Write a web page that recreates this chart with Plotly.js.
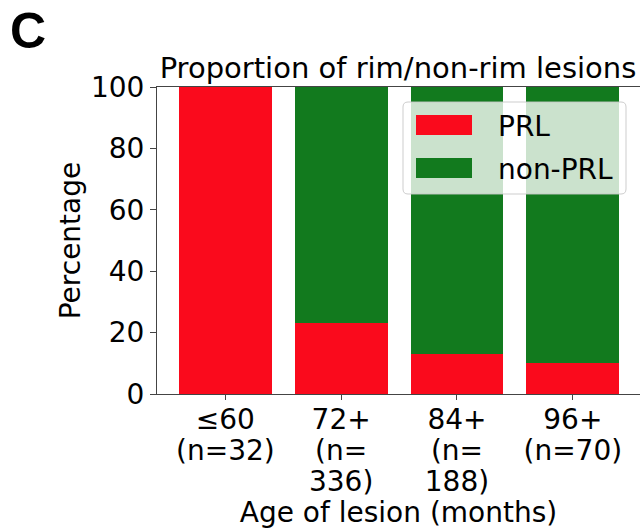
<!DOCTYPE html>
<html>
<head>
<meta charset="utf-8">
<script src="https://cdn.plot.ly/plotly-3.0.1.min.js"></script>
<style>html,body{margin:0;padding:0;background:#fff;}#chart{width:640px;height:529px;}</style>
</head>
<body>
<div id="chart"></div>
<script>
// ---- data ----
const categoryLines = [["≤60", "(n=32)"], ["72+", "(n=", "336)"], ["84+", "(n=", "188)"], ["96+", "(n=70)"]];
const prlValues = [100, 23, 13, 10];
const nonPrlValues = [0, 77, 87, 90];
const seriesNames = ["PRL", "non-PRL"];
const yTicks = [0, 20, 40, 60, 80, 100];

// ---- style ----
const RED = "#fa0a1c";
const GREEN = "#127a1e";
const FONT = "DejaVu Sans, sans-serif";
const W = 640, H = 529;
const M = {l: 157, r: 0, t: 87, b: 135};
const PW = W - M.l - M.r, PH = H - M.t - M.b;
const px = x => (x - M.l) / PW;
const py = y => (M.t + PH - y) / PH;

// glyphs at 28px, line spacing from a 24px base (tighter, like the reference)
const categories = categoryLines.map(ls => ls.map(s => `<span style="font-size:28px">${s}</span>`).join("<br>"));

const traces = [
  {type: "bar", name: seriesNames[0], x: categories, y: prlValues, marker: {color: RED}, showlegend: false, hoverinfo: "skip"},
  {type: "bar", name: seriesNames[1], x: categories, y: nonPrlValues, marker: {color: GREEN}, showlegend: false, hoverinfo: "skip"}
];

function roundedRect(x0, y0, x1, y1, r) {
  const X0 = px(x0), X1 = px(x1), Y0 = py(y0), Y1 = py(y1);
  const rx = r / PW, ry = r / PH;
  return `M ${X0 + rx} ${Y0} L ${X1 - rx} ${Y0} Q ${X1} ${Y0} ${X1} ${Y0 - ry} L ${X1} ${Y1 + ry} Q ${X1} ${Y1} ${X1 - rx} ${Y1} L ${X0 + rx} ${Y1} Q ${X0} ${Y1} ${X0} ${Y1 + ry} L ${X0} ${Y0 - ry} Q ${X0} ${Y0} ${X0 + rx} ${Y0} Z`;
}

const shapes = [
  {type: "path", xref: "paper", yref: "paper", path: roundedRect(403, 102, 626, 194, 5),
   fillcolor: "rgba(255,255,255,0.78)", line: {color: "rgba(200,200,200,0.9)", width: 1}},
  {type: "rect", xref: "paper", yref: "paper", x0: px(416), x1: px(472), y0: py(135), y1: py(115),
   fillcolor: RED, line: {width: 0}},
  {type: "rect", xref: "paper", yref: "paper", x0: px(416), x1: px(472), y0: py(178), y1: py(158),
   fillcolor: GREEN, line: {width: 0}}
];

const annotations = [
  {xref: "paper", yref: "paper", x: px(496), y: py(127), xanchor: "left", yanchor: "middle",
   text: seriesNames[0], showarrow: false, font: {family: FONT, size: 28, color: "#000"}},
  {xref: "paper", yref: "paper", x: px(496), y: py(169), xanchor: "left", yanchor: "middle",
   text: seriesNames[1], showarrow: false, font: {family: FONT, size: 28, color: "#000"}},
  {xref: "paper", yref: "paper", x: px(8), y: py(31), xanchor: "left", yanchor: "middle",
   text: "<b>C</b>", showarrow: false, font: {family: "Liberation Sans, Arial, sans-serif", size: 50, color: "#000"}}
];

const layout = {
  width: W, height: H,
  margin: M,
  paper_bgcolor: "#fff", plot_bgcolor: "#fff",
  barmode: "stack", bargap: 0.2,
  font: {family: FONT, size: 28, color: "#000"},
  title: {text: "Proportion of rim/non-rim lesions", xref: "paper", x: px(398), xanchor: "center",
          yref: "container", y: 1 - 68 / H, yanchor: "middle", font: {family: FONT, size: 29, color: "#000"}},
  xaxis: {type: "category", range: [-0.59, 3.58], showgrid: false, zeroline: false,
          showline: true, linecolor: "#444", linewidth: 1, mirror: true,
          ticks: "outside", ticklen: 5, tickwidth: 1, tickcolor: "#444",
          tickfont: {family: FONT, size: 24, color: "#000"},
          title: {text: "Age of lesion (months)", font: {family: FONT, size: 28, color: "#000"}, standoff: 2}},
  yaxis: {range: [0, 100], tickvals: yTicks, ticktext: yTicks.map(String), showgrid: false, zeroline: false,
          showline: true, linecolor: "#444", linewidth: 1,
          ticks: "outside", ticklen: 6, tickwidth: 1, tickcolor: "#444",
          tickfont: {family: FONT, size: 28, color: "#000"},
          title: {text: "Percentage", font: {family: FONT, size: 28, color: "#000"}, standoff: 2}},
  shapes: shapes,
  annotations: annotations
};

Plotly.newPlot("chart", traces, layout, {staticPlot: true, displayModeBar: false});
</script>
</body>
</html>
